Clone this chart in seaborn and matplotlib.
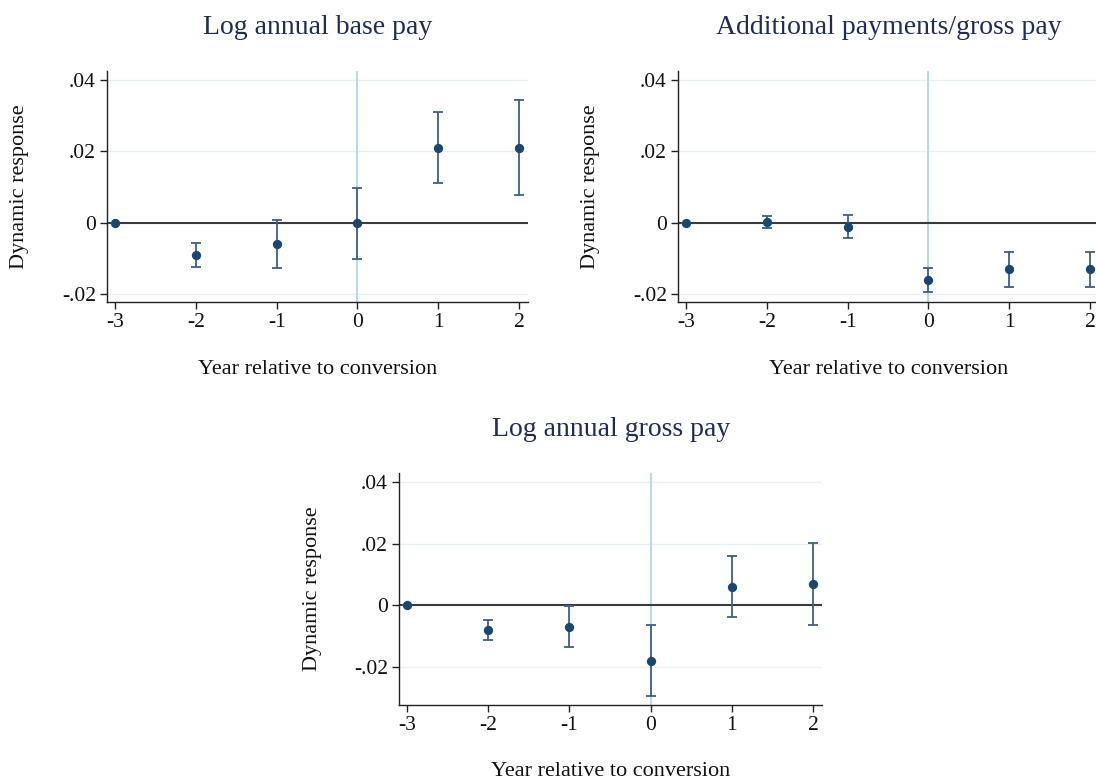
import numpy as np
import pandas as pd
import matplotlib
matplotlib.use("Agg")
import matplotlib.pyplot as plt
import seaborn as sns

# Event-study estimates: year relative to conversion
years = [-3, -2, -1, 0, 1, 2]

base_coef = [0.0, -0.009, -0.006, -0.0001, 0.021, 0.021]
base_lo = [0.0, -0.0123, -0.0126, -0.0101, 0.0112, 0.0079]
base_hi = [0.0, -0.0057, 0.0007, 0.0098, 0.031, 0.0343]

addl_coef = [0.0, 0.0002, -0.001, -0.016, -0.013, -0.013]
addl_lo = [0.0, -0.0014, -0.0043, -0.0193, -0.0179, -0.018]
addl_hi = [0.0, 0.0019, 0.0023, -0.0127, -0.008, -0.008]

gross_coef = [0.0, -0.008, -0.007, -0.018, 0.006, 0.007]
gross_lo = [0.0, -0.0113, -0.0135, -0.0295, -0.0038, -0.0063]
gross_hi = [0.0, -0.0048, -0.0002, -0.0064, 0.0159, 0.0202]

titles = ["Log annual base pay", "Additional payments/gross pay", "Log annual gross pay"]
ytick_vals = [-0.02, 0.0, 0.02, 0.04]
ytick_labels = ["-.02", "0", ".02", ".04"]
xlabel = "Year relative to conversion"
ylabel = "Dynamic response"

sns.set_theme(style="white")
plt.rcParams["font.family"] = ["Liberation Serif", "DejaVu Serif"]

W, H = 1096, 781
fig = plt.figure(figsize=(W / 100, H / 100), dpi=100)
fig.patch.set_facecolor("white")

navy = "#1a476f"
ci_col = "#3e5f85"
title_col = "#1f2d55"
grid_col = "#e6eff1"


def px_axes(left, top, right, bottom):
    return fig.add_axes([left / W, 1 - bottom / H, (right - left) / W, (bottom - top) / H])


def draw_panel(ax, coef, lo, hi, ylim):
    df = pd.DataFrame({"year": years, "coef": coef, "lo": lo, "hi": hi})
    for v in ytick_vals:
        if v != 0:
            ax.axhline(v, color=grid_col, lw=1.0, zorder=0)
    ax.axvline(0, color="#b4dbe6", lw=1.4, zorder=1)
    ax.axhline(0, color="#3a3a3a", lw=1.5, zorder=2)
    ax.errorbar(df["year"], df["coef"],
                yerr=[df["coef"] - df["lo"], df["hi"] - df["coef"]],
                fmt="none", ecolor=ci_col, elinewidth=1.3, capsize=3.5,
                capthick=1.3, zorder=3)
    sns.scatterplot(data=df, x="year", y="coef", ax=ax, color=navy, s=45,
                    edgecolor=navy, linewidth=0, zorder=4, legend=False)
    ax.set_xlim(-3.1, 2.11)
    ax.set_ylim(*ylim)
    ax.set_xticks(years)
    ax.set_xticklabels([str(y) for y in years])
    ax.set_yticks(ytick_vals)
    ax.set_yticklabels(ytick_labels)
    ax.set_xlabel("")
    ax.set_ylabel("")
    for s in ["top", "right"]:
        ax.spines[s].set_visible(False)
    for s in ["left", "bottom"]:
        ax.spines[s].set_color("#222222")
        ax.spines[s].set_linewidth(1.0)
    ax.tick_params(axis="both", which="major", length=5, width=1.0,
                   color="#222222", labelsize=15.5, labelcolor="#111111",
                   direction="out", pad=3, left=True, bottom=True)
    ax.set_facecolor("white")
    ax.grid(False)


ax1 = px_axes(107, 71, 528, 302)
ax2 = px_axes(678, 71, 1099, 302)
ax3 = px_axes(399, 473, 822, 705)

draw_panel(ax1, base_coef, base_lo, base_hi, (-0.0221, 0.0425))
draw_panel(ax2, addl_coef, addl_lo, addl_hi, (-0.0221, 0.0425))
draw_panel(ax3, gross_coef, gross_lo, gross_hi, (-0.0323, 0.0429))

# Titles
fig.text(318 / W, 1 - 27 / H, titles[0], ha="center", va="center", fontsize=20, color=title_col)
fig.text(889 / W, 1 - 27 / H, titles[1], ha="center", va="center", fontsize=20, color=title_col)
fig.text(611 / W, 1 - 429 / H, titles[2], ha="center", va="center", fontsize=20, color=title_col)

# Axis labels
for cx, cy in [(318, 369), (889, 369), (611, 771)]:
    fig.text(cx / W, 1 - cy / H, xlabel, ha="center", va="center", fontsize=16, color="#111111")
for cx, cy in [(20, 187), (591, 187), (313, 589)]:
    fig.text(cx / W, 1 - cy / H, ylabel, ha="center", va="center", rotation=90,
             fontsize=16, color="#111111")

fig.savefig("out.png", dpi=100, facecolor="white")
